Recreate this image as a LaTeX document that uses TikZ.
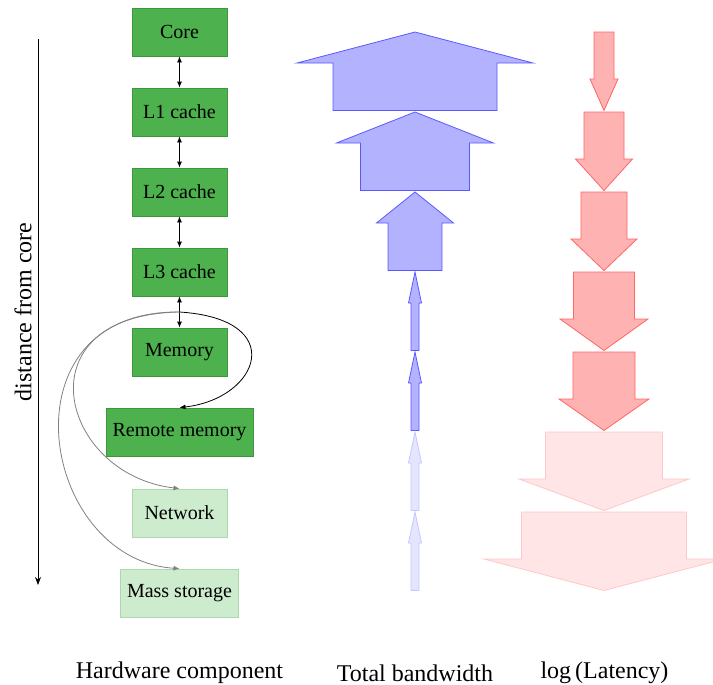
\documentclass[tikz,border=0pt]{standalone}
\usepackage{fontspec}
\setmainfont{Liberation Serif}
\usepackage{tikz}
\usetikzlibrary{arrows.meta,positioning,calc}
\usepackage{xcolor}
\definecolor{hwgreen}{RGB}{77,178,77}
\definecolor{hwgreenline}{RGB}{60,150,60}
\definecolor{hwpale}{RGB}{205,235,205}
\definecolor{hwpaleline}{RGB}{175,215,175}

\begin{document}
\begin{tikzpicture}[
  x=0.5pt, y=-0.5pt,
  hw/.style={rectangle,draw=hwgreenline,fill=hwgreen,
             minimum width=47.5pt,minimum height=24pt,align=center},
  hwfar/.style={hw,draw=hwpaleline,fill=hwpale},
  bwarrow/.style={draw=blue!65,fill=blue!30},
  bwfaint/.style={draw=blue!22,fill=blue!10},
  latarrow/.style={draw=red!60,fill=red!30},
  latfaint/.style={draw=red!22,fill=red!10},
  link/.style={{Latex[length=3pt,width=2.5pt]}-{Latex[length=3pt,width=2.5pt]}},
  hop/.style={-{Latex[length=3pt,width=2.5pt]}},
]
\useasboundingbox (0,0) rectangle (713,685);

% Hardware components
\node[hw]    (core)    at (179.5,32)  {Core};
\node[hw]    (lone)    at (179.5,112) {L1 cache};
\node[hw]    (ltwo)    at (179.5,192) {L2 cache};
\node[hw]    (lthree)  at (179.5,272) {L3 cache};
\node[hw]    (mem)     at (179.5,352) {Memory};
\node[hw]    (remote)  at (179.5,432) {Remote memory};
\node[hwfar] (net)     at (179.5,513) {Network};
\node[hwfar] (storage) at (179.5,593) {Mass storage};

\draw[link] (core) -- (lone);
\draw[link] (lone) -- (ltwo);
\draw[link] (ltwo) -- (lthree);
\draw[link] (lthree) -- coordinate (split) (mem);

% Curved hops below L3
\draw[hop] (split) .. controls +(110,7) and +(80,-9) .. (remote.north);
\draw[hop,gray] (split) .. controls +(-160,3) and +(-120,-14) .. (net.north);
\draw[hop,gray] (split) .. controls +(-180,-2) and +(-140,-9) .. (storage.north);

% Distance axis
\coordinate (dtop) at (38,39);
\coordinate (dbot) at (38,585);
\draw[-{Stealth[length=4pt,width=3pt]}] (dtop) -- (dbot);
\node[font=\large,rotate=90] (dist) at (23,312) {distance from core};

% Bandwidth arrows (up)
\foreach \t/\sw/\hw/\st in {32/164/236/bwarrow,112/109/157/bwarrow,
    192/54/77/bwarrow,272/8/13/bwarrow,352/8/13/bwarrow,
    432/8/13/bwfaint,512/8/13/bwfaint}
  \draw[\st] (415,\t) -- ({415+\hw/2},{\t+31}) -- ({415+\sw/2},{\t+31})
    -- ({415+\sw/2},{\t+78.5}) -- ({415-\sw/2},{\t+78.5})
    -- ({415-\sw/2},{\t+31}) -- ({415-\hw/2},{\t+31}) -- cycle;

% Latency arrows (down)
\foreach \t/\sw/\hw/\st in {32/20/28/latarrow,112/40/57/latarrow,
    192/46/66/latarrow,272/61/88/latarrow,352/62/90/latarrow,
    432/117/170/latfaint,512/165/240/latfaint}
  \draw[\st] ({604-\sw/2},\t) -- ({604+\sw/2},\t) -- ({604+\sw/2},{\t+47})
    -- ({604+\hw/2},{\t+47}) -- (604,{\t+78.5}) -- ({604-\hw/2},{\t+47})
    -- ({604-\sw/2},{\t+47}) -- cycle;

% Column titles
\node[font=\large] (hwtitle)  at (179.5,673) {Hardware component};
\node[font=\large] (bwtitle)  at (415,673)   {Total bandwidth};
\node[font=\large] (lattitle) at (604.5,673) {log\,(Latency)};
\end{tikzpicture}
\end{document}
